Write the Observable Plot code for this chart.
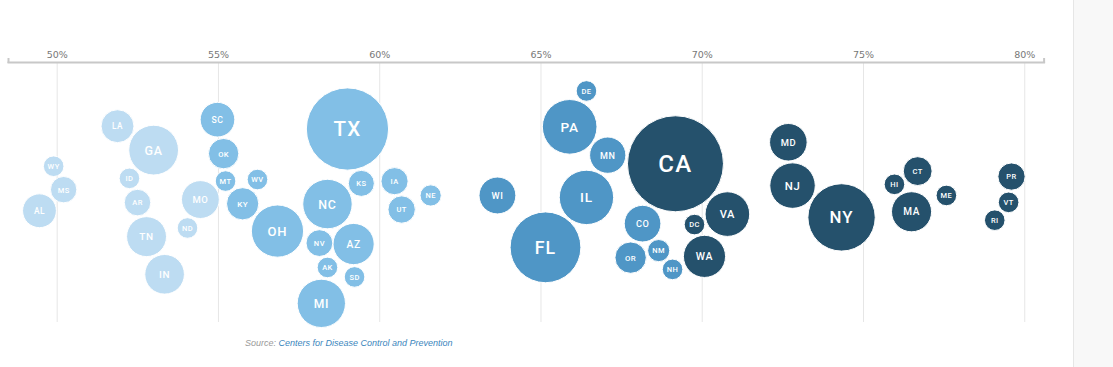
<!DOCTYPE html>
<html>
<head>
<meta charset="utf-8">
<script src="https://cdn.jsdelivr.net/npm/d3@7"></script>
<script src="https://cdn.jsdelivr.net/npm/@observablehq/plot@0.6"></script>
<style>
  html, body { margin: 0; padding: 0; background: #fff; }
  #wrap { position: relative; width: 1113px; height: 367px; overflow: hidden; }
  #side { position: absolute; left: 1073px; top: 0; width: 40px; height: 367px; background: #f8f8f8; border-left: 1px solid #e6e6e6; }
  #chart { position: absolute; left: 0; top: 0; }
  #chart g[aria-label="text"] text { letter-spacing: 0.06em; }
  #caption { position: absolute; left: 245px; top: 338px; font: italic 9px "Liberation Sans", Arial, sans-serif; color: #9a9a9a; }
  #caption span { color: #3b86bd; }
</style>
</head>
<body>
<div id="wrap">
  <div id="chart"></div>
  <div id="side"></div>
  <div id="caption">Source: <span>Centers for Disease Control and Prevention</span></div>
</div>
<script>
// ---- data ----
const states = ["WY","AL","MS","GA","ND","AR","LA","IN","MO","TN","ID",
  "OK","WV","KY","MT","SC","OH","MI","TX","KS","SD","NV","AZ","NC","IA","UT","NE","AK",
  "WI","PA","FL","DE","MN","IL","CO","NH","OR","NM",
  "CA","DC","VA","WA","MD","NJ","NY","CT","MA","ME","HI","PR","VT","RI"];
const names = ["Wyoming","Alabama","Mississippi","Georgia","North Dakota","Arkansas","Louisiana","Indiana","Missouri","Tennessee","Idaho",
  "Oklahoma","West Virginia","Kentucky","Montana","South Carolina","Ohio","Michigan","Texas","Kansas","South Dakota","Nevada","Arizona","North Carolina","Iowa","Utah","Nebraska","Alaska",
  "Wisconsin","Pennsylvania","Florida","Delaware","Minnesota","Illinois","Colorado","New Hampshire","Oregon","New Mexico",
  "California","District of Columbia","Virginia","Washington","Maryland","New Jersey","New York","Connecticut","Massachusetts","Maine","Hawaii","Puerto Rico","Vermont","Rhode Island"];
// share (%) on the horizontal axis
const rates = [49.89,49.45,50.20,52.99,54.04,52.49,51.87,53.33,54.44,52.77,52.24,
  55.16,56.21,55.75,55.22,54.97,56.83,58.19,59.00,59.43,59.22,58.13,59.19,58.38,60.46,60.68,61.58,58.38,
  63.65,65.89,65.14,66.41,67.07,66.41,68.15,69.08,67.78,68.65,
  69.17,69.76,70.78,70.07,72.67,72.80,74.32,76.68,76.49,77.57,75.96,79.59,79.50,79.07];
// population (millions) -> bubble size
const population = [0.58,4.90,2.98,10.62,0.76,3.02,4.65,6.73,6.14,6.83,1.79,
  3.96,1.79,4.47,1.07,5.15,11.69,9.99,29.00,2.91,0.88,3.08,7.28,10.49,3.16,3.21,1.93,0.73,
  5.82,12.80,21.48,0.97,5.64,12.67,5.76,1.36,4.22,2.10,
  39.51,0.71,8.54,7.61,6.05,8.88,19.45,3.57,6.89,1.34,1.42,3.19,0.62,1.06];
const tiers = [1,1,1,1,1,1,1,1,1,1,1,
  2,2,2,2,2,2,2,2,2,2,2,2,2,2,2,2,2,
  3,3,3,3,3,3,3,3,3,3,
  4,4,4,4,4,4,4,4,4,4,4,4,4,4];
const tierColors = ["#bddcf2","#82bfe6","#4f96c6","#25516c"];
const xTicks = [50,55,60,65,70,75,80];
const xDomain = [48.49, 80.6];

// ---- scales ----
const W = 1073, H = 330, ML = 8, MR = 29.4, MT = 62, MB = 8;
const xSpec = {domain: xDomain};
const rSpec = {type: "sqrt", domain: [1.82, 39.51], range: [10.3, 48], clamp: true};
const xs = Plot.scale({x: {...xSpec, range: [ML, W - MR]}});
const rs = Plot.scale({r: rSpec});

// ---- beeswarm layout (force simulation, x fixed at value), nodes in alphabetical order ----
const nodes = states.map((s, i) => ({
  state: s, name: names[i], rate: rates[i], pop: population[i], tier: tiers[i],
  r: rs.apply(population[i]), fx: xs.apply(rates[i])
})).sort((a, b) => d3.ascending(a.name, b.name));
const sim = d3.forceSimulation(nodes)
  .alphaDecay(0.01)
  .force("y", d3.forceY(195).strength(0.05))
  .force("collide", d3.forceCollide(d => d.r + 1).iterations(4))
  .stop();
for (let i = 0; i < 700; i++) sim.tick();

const chart = Plot.plot({
  width: W, height: H,
  marginLeft: ML, marginRight: MR, marginTop: MT, marginBottom: MB,
  style: {background: "transparent", overflow: "visible"},
  x: {...xSpec, axis: null},
  y: {type: "identity", axis: null},
  r: rSpec,
  color: {type: "ordinal", domain: [1,2,3,4], range: tierColors},
  marks: [
    Plot.gridX(xTicks, {stroke: "#e6e6e6", strokeOpacity: 1}),
    Plot.frame({anchor: "top", stroke: "#c8c8c8", strokeWidth: 2}),
    Plot.axisX({anchor: "top", ticks: xDomain, tickSize: 5, tickFormat: () => "", stroke: "#c8c8c8", strokeWidth: 2, label: null}),
    Plot.axisX({anchor: "top", ticks: xTicks, tickSize: 0, tickPadding: 5, tickFormat: d => d + "%",
      fontSize: 9.5, fontFamily: "DejaVu Sans", fill: "#777", label: null}),
    Plot.dot(nodes, {x: "rate", y: "y", r: "pop", fill: "tier", stroke: "white", strokeWidth: 1, fillOpacity: 1}),
    Plot.text(nodes, {x: "rate", y: "y", text: "state", fill: "white", fontFamily: "Roboto", fontWeight: 500,
      fontSize: d => Math.max(7.5, d.r * 0.5), dy: 0.5})
  ]
});
document.getElementById("chart").appendChild(chart);
</script>
</body>
</html>
